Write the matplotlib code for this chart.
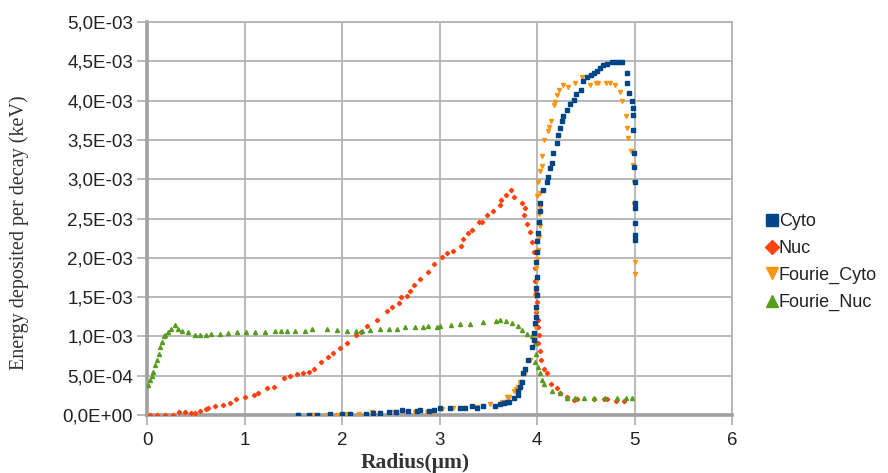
import numpy as np
import matplotlib
matplotlib.use("Agg")
from matplotlib import pyplot as plt
from matplotlib.ticker import FuncFormatter, MultipleLocator

# energy values below are in units of 1E-03 keV
cyto_r = [1.55, 1.66, 1.74, 1.88, 2.00, 2.08, 2.25, 2.32, 2.39, 2.48, 2.55, 2.62, 2.68, 2.77,
          2.80, 2.89, 2.94, 3.01, 3.11, 3.21, 3.26, 3.33, 3.38, 3.45, 3.57, 3.62, 3.66, 3.69,
          3.71, 3.76, 3.80, 3.81, 3.83, 3.85, 3.86, 3.88, 3.91, 3.95, 3.97, 3.97, 3.98, 3.99,
          3.99, 4.00, 3.99, 4.00, 3.99, 4.00, 4.00, 4.01, 4.02, 4.03, 4.03, 4.06, 4.10, 4.11,
          4.13, 4.15, 4.16, 4.21, 4.22, 4.24, 4.26, 4.27, 4.31, 4.34, 4.38, 4.40, 4.45, 4.47,
          4.51, 4.55, 4.58, 4.62, 4.65, 4.68, 4.72, 4.77, 4.80, 4.84, 4.87, 4.92, 4.92, 4.94,
          4.97, 4.98, 4.98, 4.98, 4.99, 4.99, 5.00, 5.01, 5.00, 5.00, 5.00, 5.00]
cyto_e = [0.0, 0.0, 0.0, 0.01, 0.01, 0.01, 0.013, 0.03, 0.03, 0.034, 0.034, 0.064, 0.05, 0.055,
          0.064, 0.055, 0.064, 0.085, 0.093, 0.093, 0.093, 0.115, 0.093, 0.115, 0.12, 0.14, 0.15, 0.17,
          0.17, 0.21, 0.25, 0.30, 0.36, 0.42, 0.53, 0.59, 0.70, 0.87, 0.95, 1.04, 1.17, 1.25,
          1.38, 1.53, 1.61, 1.76, 1.95, 2.08, 2.21, 2.31, 2.46, 2.59, 2.70, 2.86, 2.96, 3.03,
          3.14, 3.21, 3.33, 3.46, 3.56, 3.65, 3.74, 3.80, 3.88, 3.96, 4.01, 4.08, 4.13, 4.25,
          4.30, 4.33, 4.35, 4.38, 4.42, 4.45, 4.47, 4.49, 4.49, 4.49, 4.49, 4.35, 4.23, 4.10,
          4.00, 3.90, 3.82, 3.63, 3.33, 3.16, 2.96, 2.70, 2.63, 2.44, 2.29, 2.23]

nuc_r = [0.03, 0.10, 0.185, 0.27, 0.33, 0.39, 0.45, 0.49, 0.54, 0.61, 0.63, 0.70, 0.78, 0.85,
         0.91, 1.01, 1.10, 1.14, 1.23, 1.30, 1.40, 1.47, 1.54, 1.60, 1.66, 1.71, 1.78, 1.86,
         1.91, 1.98, 2.05, 2.14, 2.19, 2.26, 2.36, 2.46, 2.51, 2.58, 2.61, 2.67, 2.70, 2.74,
         2.80, 2.88, 2.94, 3.03, 3.08, 3.14, 3.22, 3.24, 3.29, 3.33, 3.41, 3.44, 3.49, 3.55,
         3.62, 3.63, 3.68, 3.73, 3.76, 3.85, 3.88, 3.87, 3.90, 3.93, 3.95, 3.97, 3.98, 3.98,
         3.99, 4.00, 3.99, 4.01, 4.01, 4.02, 4.01, 4.03, 4.04, 4.07, 4.10, 4.14, 4.21, 4.24,
         4.31, 4.38, 4.41, 4.58, 4.69, 4.72, 4.81, 4.89]
nuc_e = [0.0, 0.0, 0.0, 0.0, 0.034, 0.034, 0.02, 0.03, 0.055, 0.07, 0.085, 0.12, 0.13, 0.15,
         0.20, 0.23, 0.26, 0.28, 0.34, 0.36, 0.47, 0.50, 0.52, 0.53, 0.55, 0.59, 0.68, 0.74,
         0.79, 0.85, 0.91, 1.02, 1.06, 1.13, 1.21, 1.32, 1.38, 1.43, 1.50, 1.52, 1.58, 1.65,
         1.73, 1.82, 1.92, 2.01, 2.06, 2.09, 2.15, 2.24, 2.31, 2.35, 2.45, 2.46, 2.54, 2.60,
         2.67, 2.74, 2.80, 2.86, 2.77, 2.70, 2.63, 2.55, 2.43, 2.33, 2.20, 2.08, 1.87, 1.70,
         1.57, 1.44, 1.31, 1.21, 1.12, 1.02, 0.91, 0.81, 0.70, 0.59, 0.53, 0.40, 0.34, 0.28,
         0.23, 0.19, 0.20, 0.20, 0.20, 0.20, 0.18, 0.18]

fcyto_r = [1.55, 1.69, 1.85, 1.95, 2.05, 2.17, 2.31, 2.39, 2.53, 2.63, 2.75, 2.87, 2.92, 3.03,
           3.14, 3.25, 3.38, 3.52, 3.64, 3.69, 3.71, 3.76, 3.78, 3.80, 3.83, 3.83, 3.88, 3.93,
           3.96, 3.97, 3.98, 3.99, 3.99, 3.98, 4.00, 3.99, 4.00, 4.01, 4.02, 4.03, 4.02, 4.03,
           4.00, 4.03, 4.01, 4.03, 4.05, 4.05, 4.07, 4.11, 4.12, 4.14, 4.17, 4.18, 4.21, 4.23,
           4.27, 4.32, 4.39, 4.46, 4.54, 4.60, 4.63, 4.71, 4.75, 4.80, 4.85, 4.87, 4.91, 4.92,
           4.93, 4.96, 4.98, 4.99, 4.99, 5.00, 5.00]
fcyto_e = [0.0, 0.0, 0.0, 0.0, 0.01, 0.01, 0.04, 0.02, 0.034, 0.04, 0.04, 0.034, 0.04, 0.07,
           0.085, 0.093, 0.105, 0.14, 0.17, 0.23, 0.23, 0.30, 0.33, 0.36, 0.40, 0.42, 0.53, 0.70,
           0.87, 1.00, 1.12, 1.25, 1.34, 1.51, 1.72, 1.87, 1.99, 2.10, 2.27, 2.40, 2.56, 2.65,
           2.78, 2.82, 2.96, 3.10, 3.17, 3.30, 3.50, 3.61, 3.67, 3.74, 3.94, 3.98, 4.07, 4.13,
           4.20, 4.17, 4.23, 4.30, 4.20, 4.22, 4.23, 4.23, 4.22, 4.20, 4.11, 3.99, 3.80, 3.65,
           3.52, 3.36, 3.18, 2.96, 2.68, 1.95, 1.80]

fnuc_r = [0.01, 0.03, 0.05, 0.065, 0.08, 0.10, 0.12, 0.13, 0.15, 0.17, 0.185, 0.22, 0.25, 0.29,
          0.32, 0.36, 0.42, 0.49, 0.54, 0.60, 0.66, 0.75, 0.83, 0.92, 1.02, 1.11, 1.21, 1.31,
          1.37, 1.44, 1.52, 1.62, 1.69, 1.85, 1.95, 2.05, 2.14, 2.20, 2.29, 2.39, 2.48, 2.56,
          2.65, 2.75, 2.83, 2.88, 2.97, 3.01, 3.12, 3.21, 3.31, 3.45, 3.58, 3.62, 3.68, 3.74,
          3.80, 3.85, 3.90, 3.95, 3.98, 3.99, 3.98, 4.01, 4.03, 4.05, 4.07, 4.15, 4.24, 4.31,
          4.39, 4.48, 4.58, 4.70, 4.82, 4.91, 4.97]
fnuc_e = [0.38, 0.45, 0.49, 0.55, 0.64, 0.70, 0.78, 0.87, 0.93, 1.00, 1.02, 1.06, 1.10, 1.15,
          1.09, 1.07, 1.05, 1.02, 1.02, 1.02, 1.03, 1.03, 1.04, 1.05, 1.05, 1.05, 1.05, 1.07,
          1.07, 1.07, 1.07, 1.07, 1.09, 1.09, 1.08, 1.07, 1.07, 1.07, 1.08, 1.09, 1.09, 1.10,
          1.12, 1.12, 1.12, 1.13, 1.12, 1.13, 1.15, 1.16, 1.16, 1.18, 1.20, 1.21, 1.20, 1.17,
          1.13, 1.08, 1.03, 1.00, 0.91, 0.78, 0.68, 0.61, 0.53, 0.45, 0.40, 0.31, 0.28, 0.22,
          0.21, 0.21, 0.21, 0.21, 0.21, 0.22, 0.21]

scale = 1e-3

fig = plt.figure(figsize=(8.88, 4.73), dpi=100)
ax = fig.add_axes([147 / 888, 1 - 415 / 473, (732 - 147) / 888, (415 - 22) / 473])

ax.plot(cyto_r, np.array(cyto_e) * scale, ls="none", marker="s", ms=2.6,
        color="#004586", label="Cyto", zorder=5)
ax.plot(nuc_r, np.array(nuc_e) * scale, ls="none", marker="D", ms=2.2,
        color="#ff420e", label="Nuc", zorder=3)
ax.plot(fcyto_r, np.array(fcyto_e) * scale, ls="none", marker="v", ms=2.9,
        color="#ff950e", label="Fourie_Cyto", zorder=4)
ax.plot(fnuc_r, np.array(fnuc_e) * scale, ls="none", marker="^", ms=2.9,
        color="#579d1c", label="Fourie_Nuc", zorder=3)

ax.set_xlim(0, 6)
ax.set_ylim(0, 5e-3)
ax.xaxis.set_major_locator(MultipleLocator(1))
ax.yaxis.set_major_locator(MultipleLocator(5e-4))
ax.yaxis.set_major_formatter(FuncFormatter(lambda v, p: ("%.1E" % v).replace(".", ",")))
ax.xaxis.set_major_formatter(FuncFormatter(lambda v, p: "%d" % round(v)))

ax.grid(True, color="#b3b3b3", lw=1.3)
ax.set_axisbelow(True)
for s in ["top", "right"]:
    ax.spines[s].set_color("#b3b3b3")
    ax.spines[s].set_linewidth(1.3)
for s in ["left", "bottom"]:
    ax.spines[s].set_color("#a0a0a0")
    ax.spines[s].set_linewidth(2.6)

ax.tick_params(axis="both", colors="#b3b3b3", length=7, width=1.3, labelcolor="#222222",
               labelsize=13.5, pad=3)
for lab in ax.get_xticklabels() + ax.get_yticklabels():
    lab.set_family("Liberation Sans")
ax.tick_params(axis="x", pad=5.5)

ax.set_ylabel("Energy deposited per decay (keV)", family="Liberation Serif",
              fontsize=14.5, color="#333333")
ax.yaxis.set_label_coords((29 - 147) / 585, 1 - (233 - 22) / 393)
ax.set_xlabel("Radius(µm)", family="Liberation Serif", fontsize=15.5, fontweight="bold",
              color="#333333")
ax.xaxis.set_label_coords((415 - 147) / 585, -(472.5 - 415) / 393)
ax.xaxis.label.set_va("bottom")

leg = fig.legend(loc="center left", bbox_to_anchor=(750 / 888, 1 - 262 / 473), frameon=False,
                 markerscale=3.2, handlelength=0.6, handletextpad=0.1, labelspacing=0.55,
                 prop={"family": "Liberation Sans", "size": 13})
for t in leg.get_texts():
    t.set_color("#222222")

fig.savefig("out.png", dpi=100)
